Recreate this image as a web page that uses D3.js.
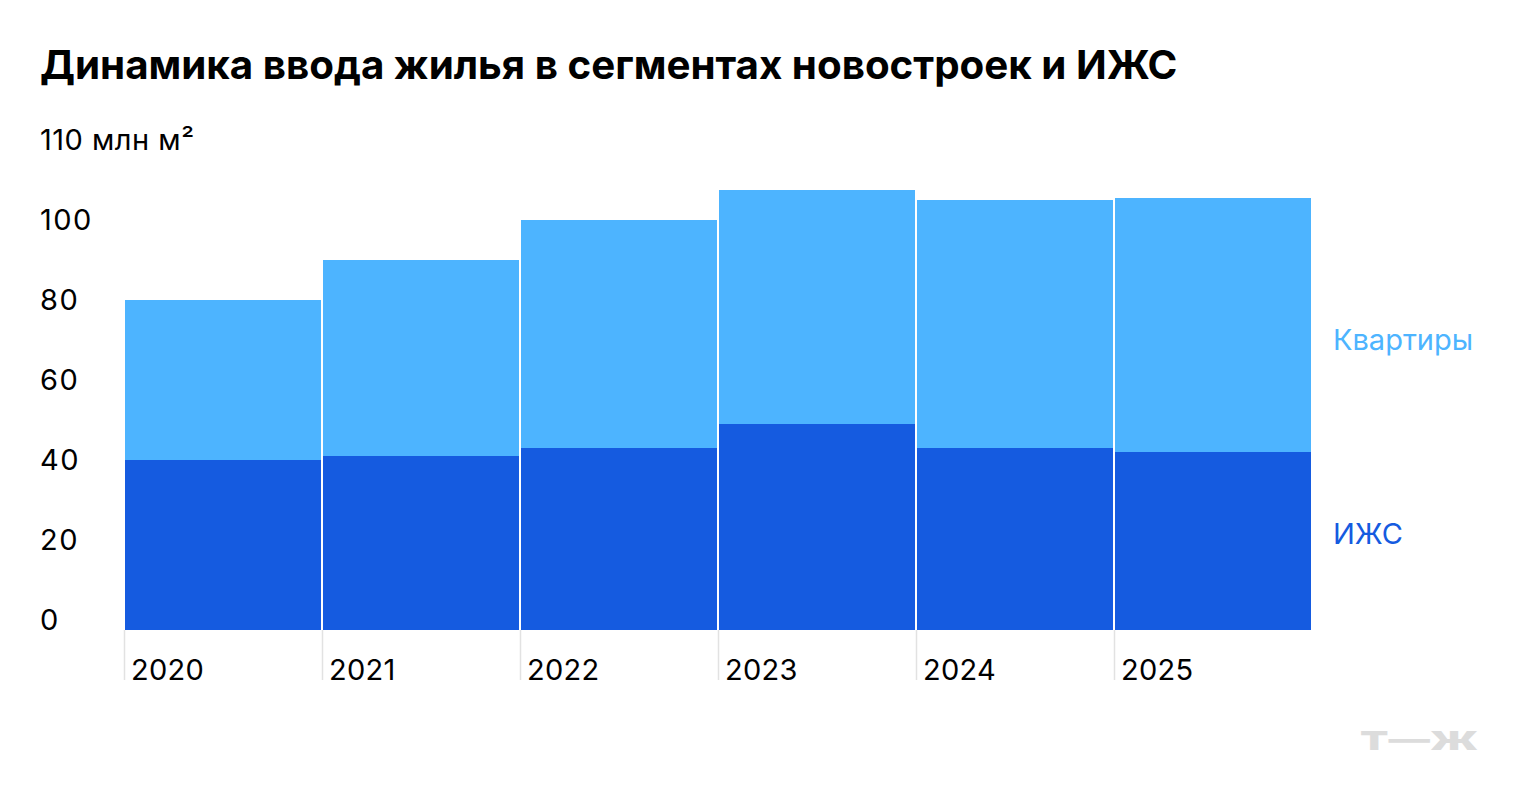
<!DOCTYPE html>
<html>
<head>
<meta charset="utf-8">
<script src="https://cdn.jsdelivr.net/npm/d3@7"></script>
<style>
  body { margin: 0; background: #fff; }
  svg text { font-family: Inter, "Noto Sans", sans-serif; }
</style>
</head>
<body>
<div id="chart"></div>
<script>
const years = ["2020", "2021", "2022", "2023", "2024", "2025"];
// млн м²
const izhs = [42.5, 43.5, 45.5, 51.5, 45.5, 44.5];
const flats = [40, 49, 57, 58.5, 62, 63.5];
const yTicks = [0, 20, 40, 60, 80, 100];
const seriesNames = ["ИЖС", "Квартиры"];
const colors = ["#155be0", "#4db4ff"];

const width = 1520, height = 810;

const svg = d3.select("#chart")
  .append("svg")
  .attr("width", width)
  .attr("height", height);

const x = d3.scaleBand()
  .domain(years)
  .range([124, 1312]);

const y = d3.scaleLinear()
  .domain([0, 100])
  .range([630, 230]);

const table = years.map((yr, i) => ({year: yr, izhs: izhs[i], flats: flats[i]}));
const stacked = d3.stack().keys(["izhs", "flats"])(table);

// title
svg.append("text")
  .attr("x", 40)
  .attr("y", 79)
  .attr("font-size", 40.3)
  .attr("font-weight", 700)
  .attr("fill", "#000")
  .text("Динамика ввода жилья в сегментах новостроек и ИЖС");

svg.append("text")
  .attr("x", 40)
  .attr("y", 150)
  .attr("font-size", 29)
  .attr("letter-spacing", 0.5)
  .attr("fill", "#000")
  .text("110 млн м²");

// y labels sit on top of their value
svg.append("g")
  .selectAll("text")
  .data(yTicks)
  .enter().append("text")
  .attr("x", 40)
  .attr("y", d => y(d))
  .attr("font-size", 29)
  .attr("letter-spacing", 1.5)
  .attr("fill", "#000")
  .text(d => d);

// tick lines under the bars
svg.append("g")
  .selectAll("line")
  .data(years)
  .enter().append("line")
  .attr("x1", d => x(d) + 0.5)
  .attr("x2", d => x(d) + 0.5)
  .attr("y1", y(0))
  .attr("y2", 680)
  .attr("stroke", "#e2e2e2")
  .attr("stroke-width", 1.5);

// bars
svg.append("g")
  .selectAll("g")
  .data(stacked)
  .enter().append("g")
  .attr("fill", (d, i) => colors[i])
  .selectAll("rect")
  .data(d => d)
  .enter().append("rect")
  .attr("x", d => x(d.data.year) + 1)
  .attr("width", x.bandwidth() - 2)
  .attr("y", d => y(d[1]))
  .attr("height", d => y(d[0]) - y(d[1]));

// year labels
svg.append("g")
  .selectAll("text")
  .data(years)
  .enter().append("text")
  .attr("x", d => x(d) + 7)
  .attr("y", 680)
  .attr("font-size", 29)
  .attr("letter-spacing", 0.3)
  .attr("fill", "#000")
  .text(d => d);

// series labels on the right
svg.append("text")
  .attr("x", 1333)
  .attr("y", 350)
  .attr("font-size", 29)
  .attr("fill", colors[1])
  .text(seriesNames[1]);

svg.append("text")
  .attr("x", 1333)
  .attr("y", 544)
  .attr("font-size", 29)
  .attr("fill", colors[0])
  .text(seriesNames[0]);

// logo
svg.append("text")
  .attr("x", 1360)
  .attr("y", 750)
  .attr("font-size", 26)
  .attr("font-weight", 900)
  .attr("fill", "#dcdcdc")
  .attr("textLength", 118)
  .attr("lengthAdjust", "spacingAndGlyphs")
  .text("Т—Ж");
</script>
</body>
</html>
